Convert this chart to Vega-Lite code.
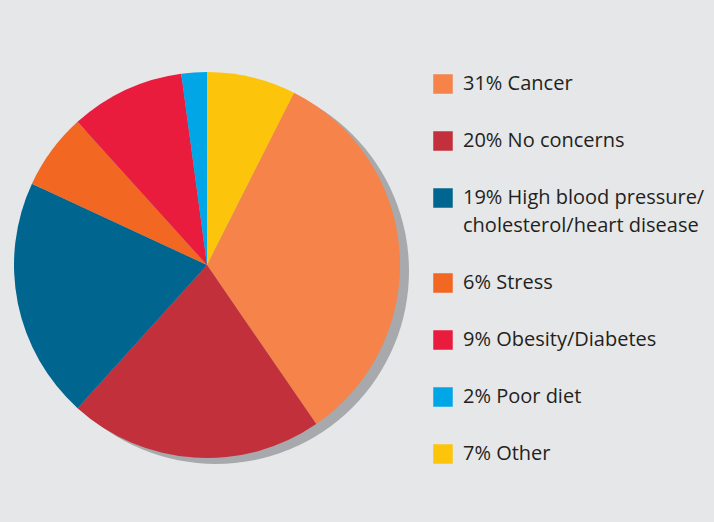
{
  "$schema": "https://vega.github.io/schema/vega-lite/v6.json",
  "width": 414,
  "height": 514,
  "autosize": {"type": "none"},
  "padding": {"left": 0, "right": 300, "top": 8, "bottom": 0},
  "background": "#e6e7e8",
  "config": {"view": {"stroke": null}, "style": {"guide-label": {"lineHeight": 28}}},
  "layer": [
    {
      "data": {"values": [{"shadow": 1}]},
      "mark": {"type": "arc", "theta": 0, "theta2": 6.2832, "radius": 193, "fill": "#a7a9ac", "xOffset": 9, "yOffset": 6},
      "encoding": {}
    },
    {
      "data": {"values": [
        {"cause": "31% Cancer", "pct": 31, "ord": 2},
        {"cause": "20% No concerns", "pct": 20, "ord": 3},
        {"cause": "19% High blood pressure/cholesterol/heart disease", "pct": 19, "ord": 4},
        {"cause": "6% Stress", "pct": 6, "ord": 5},
        {"cause": "9% Obesity/Diabetes", "pct": 9, "ord": 6},
        {"cause": "2% Poor diet", "pct": 2, "ord": 7},
        {"cause": "7% Other", "pct": 7, "ord": 1}
      ]},
      "mark": {"type": "arc", "radius": 193, "strokeWidth": 0},
      "encoding": {
        "theta": {"field": "pct", "type": "quantitative"},
        "order": {"field": "ord", "type": "quantitative"},
        "color": {
          "field": "cause",
          "type": "nominal",
          "scale": {
            "domain": ["31% Cancer", "20% No concerns", "19% High blood pressure/cholesterol/heart disease", "6% Stress", "9% Obesity/Diabetes", "2% Poor diet", "7% Other"],
            "range": ["#f6834a", "#c2303c", "#00658f", "#f26722", "#e91c3e", "#00a6e6", "#fdc40c"]
          },
          "legend": {
            "title": null,
            "orient": "none",
            "legendX": 433,
            "legendY": 66,
            "symbolType": "square",
            "symbolSize": 380,
            "symbolStrokeWidth": 0,
            "symbolOpacity": 1,
            "labelFont": "Open Sans",
            "labelFontSize": 20,
            "labelColor": "#231f20",
            "labelLimit": 0,
            "labelOffset": 10,
            "labelBaseline": "middle",
            "rowPadding": 37,
            "padding": 0,
            "labelExpr": "datum.label == '19% High blood pressure/cholesterol/heart disease' ? ['19% High blood pressure/', 'cholesterol/heart disease'] : datum.label"
          }
        }
      }
    }
  ]
}
